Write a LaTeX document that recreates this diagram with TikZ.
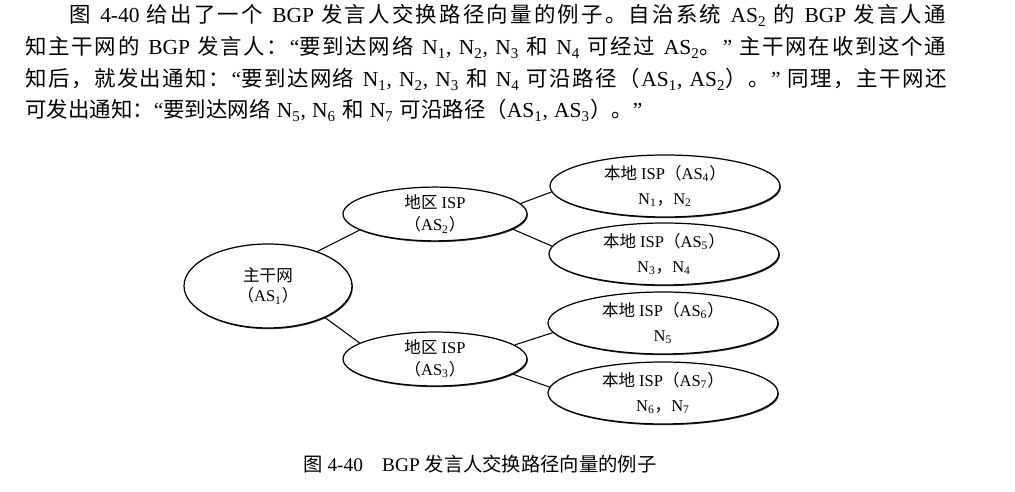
\documentclass[tikz,border=0pt]{standalone}
\usepackage{fontspec}
\setmainfont{Liberation Serif}
\newfontfamily\cjk{Noto Sans CJK SC}
\def\zhsp{\hskip 0pt plus 1pt\relax}
\def\zhloop#1{\ifx#1\relax\else#1\zhsp\expandafter\zhloop\fi}
\newcommand{\zh}[1]{{\cjk\zhloop#1\relax}}
\newcommand{\parafont}{\fontsize{12.2}{14}\selectfont\spaceskip=3.5pt plus 0.5pt\relax}
\usetikzlibrary{shapes.geometric,shadows}
\begin{document}
\begin{tikzpicture}[x=0.02cm,y=-0.02cm,
  para/.style={anchor=base west,inner sep=0pt,font=\parafont},
  isp/.style={draw,ellipse,fill=white,line width=0.7pt,inner sep=0pt,align=center,
    drop shadow={shadow xshift=0.5pt,shadow yshift=-0.7pt,fill=black,opacity=0.8}},
  bbnet/.style={isp,minimum width=3.36cm,minimum height=1.68cm,font=\fontsize{9.4}{11.5}\selectfont},
  regisp/.style={isp,minimum width=3.68cm,minimum height=1.04cm,font=\fontsize{9.4}{12.5}\selectfont},
  locisp/.style={isp,minimum width=4.6cm,minimum height=1.24cm,font=\fontsize{9.4}{14}\selectfont}]
  \useasboundingbox (0,0) rectangle (1015,492);
  \node[para] (L1) at (69,23) {\hbox to 17.58cm{\zh{图} 4-40 \zh{给出了一个} BGP \zh{发言人交换路径向量的例子。自治系统} AS\textsubscript{2} \zh{的} BGP \zh{发言人通}}};
  \node[para] (L2) at (25,55) {\hbox to 18.46cm{\zh{知主干网的} BGP \zh{发言人：}“\zh{要到达网络} N\textsubscript{1}, N\textsubscript{2}, N\textsubscript{3} \zh{和} N\textsubscript{4} \zh{可经过} AS\textsubscript{2}\zh{。}” \zh{主干网在收到这个通}}};
  \node[para] (L3) at (25,87) {\hbox to 18.46cm{\zh{知后，就发出通知：}“\zh{要到达网络} N\textsubscript{1}, N\textsubscript{2}, N\textsubscript{3} \zh{和} N\textsubscript{4} \zh{可沿路径（}AS\textsubscript{1}, AS\textsubscript{2}\zh{）。}” \zh{同理，主干网还}}};
  \node[para] (L4) at (25,118) {\zh{可发出通知：}“\zh{要到达网络} N\textsubscript{5}, N\textsubscript{6} \zh{和} N\textsubscript{7} \zh{可沿路径（}AS\textsubscript{1}, AS\textsubscript{3}\zh{）。}”};
  \node[bbnet] (AS1) at (268,286) {\zh{主干网}\\\zh{（}AS\textsubscript{1}\zh{）}};
  \node[regisp] (AS2) at (435,214) {\zh{地区} ISP\\\zh{（}AS\textsubscript{2}\zh{）}};
  \node[regisp] (AS3) at (435,359) {\zh{地区} ISP\\\zh{（}AS\textsubscript{3}\zh{）}};
  \node[locisp] (AS4) at (665,186) {\zh{本地} ISP\zh{（}AS\textsubscript{4}\zh{）}\\N\textsubscript{1}\zh{，}N\textsubscript{2}};
  \node[locisp] (AS5) at (664,254) {\zh{本地} ISP\zh{（}AS\textsubscript{5}\zh{）}\\N\textsubscript{3}\zh{，}N\textsubscript{4}};
  \node[locisp] (AS6) at (663,323) {\zh{本地} ISP\zh{（}AS\textsubscript{6}\zh{）}\\N\textsubscript{5}};
  \node[locisp] (AS7) at (663,393) {\zh{本地} ISP\zh{（}AS\textsubscript{7}\zh{）}\\N\textsubscript{6}\zh{，}N\textsubscript{7}};
  \draw[line width=0.6pt] (AS1.35) -- (AS2.192);
  \draw[line width=0.6pt] (AS1.-29) -- (AS3.168);
  \draw[line width=0.6pt] (AS2.7) -- (AS4.183);
  \draw[line width=0.6pt] (AS2.-11) -- (AS5.176);
  \draw[line width=0.6pt] (AS3.10) -- (AS6.185);
  \draw[line width=0.6pt] (AS3.-11) -- (AS7.177);
  \node[para,font=\fontsize{11}{13}\selectfont] (CAP) at (303,472) {\zh{图} 4-40\quad BGP \zh{发言人交换路径向量的例子}};
\end{tikzpicture}
\end{document}
